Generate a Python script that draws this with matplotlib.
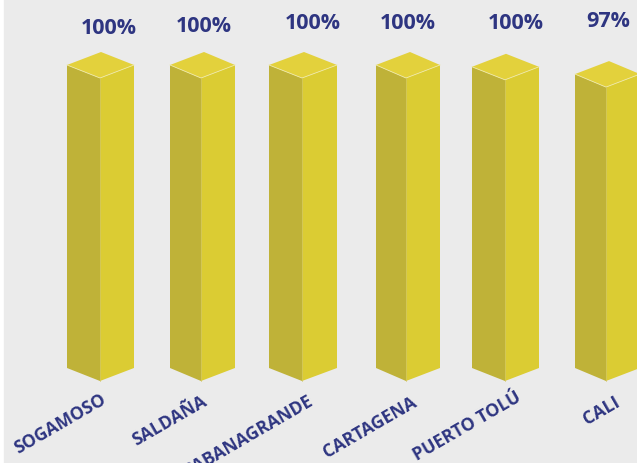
import matplotlib
matplotlib.use('Agg')
import matplotlib.pyplot as plt
from matplotlib.patches import Polygon, Rectangle

ciudades = ['SOGAMOSO', 'SALDAÑA', 'SABANAGRANDE', 'CARTAGENA', 'PUERTO TOLÚ', 'CALI']
etiquetas = ['100%', '100%', '100%', '100%', '100%', '97%']
valores = [100, 100, 100, 100, 99.4, 97]

##x of each bar: left edge, front corner, right edge
izq = [67, 170, 269, 376, 472, 575]
medio = [100, 201, 302, 406, 505, 606]
der = [134, 235, 337, 440, 539, 640]

##where the texts sit
pos_pct = [(109, 28), (204, 26), (313, 23), (408, 23), (516, 23), (608, 21)]
pos_nom = [(105, 398), (206, 400), (312, 400), (415, 401), (520, 396), (618, 401)]

AZUL = '#2E3581'
IZQ = '#BFB238'
DER = '#DBCC33'
TOP = '#E3D13C'
FONDO = '#EBEBEB'

##one value unit is 3.03 px, depth of the box is 13 px
ESCALA = 3.03
base_px = 368
prof = 13 / ESCALA

fig = plt.figure(figsize=(6.37, 4.63), dpi=100)
ax = fig.add_axes([0, 0, 1, 1])
ax.set_xlim(0, 637)
ax.set_ylim(-(463 - base_px) / ESCALA, base_px / ESCALA)
ax.axis('off')

##grey background, leaves a thin white strip on the left
ax.add_patch(Rectangle((4, -100), 700, 400, color=FONDO, zorder=0))

for i in range(len(valores)):
    v = valores[i]
    a, m, b = izq[i], medio[i], der[i]
    ax.add_patch(Polygon([(a, 0), (m, -prof), (m, v - prof), (a, v)], color=IZQ, lw=0, zorder=2))
    ax.add_patch(Polygon([(m, -prof), (b, 0), (b, v), (m, v - prof)], color=DER, lw=0, zorder=2))
    ax.add_patch(Polygon([(a, v), (m, v - prof), (b, v), (a + b - m, v + prof)], color=TOP, lw=0, zorder=2))
    ##light edges on the front of the box
    ax.plot([a, m, b], [v, v - prof, v], color='#EFE9A8', lw=0.6, zorder=3)
    ax.plot([m, m], [-prof, v - prof], color='#D0C565', lw=0.5, zorder=3)

for i in range(len(ciudades)):
    x, y = pos_pct[i]
    ax.text(x, (base_px - y) / ESCALA, etiquetas[i], color=AZUL, fontsize=15.5, fontweight='bold',
            family='Open Sans', ha='center', va='center')
    x, y = pos_nom[i]
    ax.text(x, (base_px - y) / ESCALA, ciudades[i], color=AZUL, fontsize=12.7, fontweight='bold',
            family='Open Sans', ha='right', va='center', rotation=30, rotation_mode='anchor')

fig.savefig('out.png', dpi=100)
